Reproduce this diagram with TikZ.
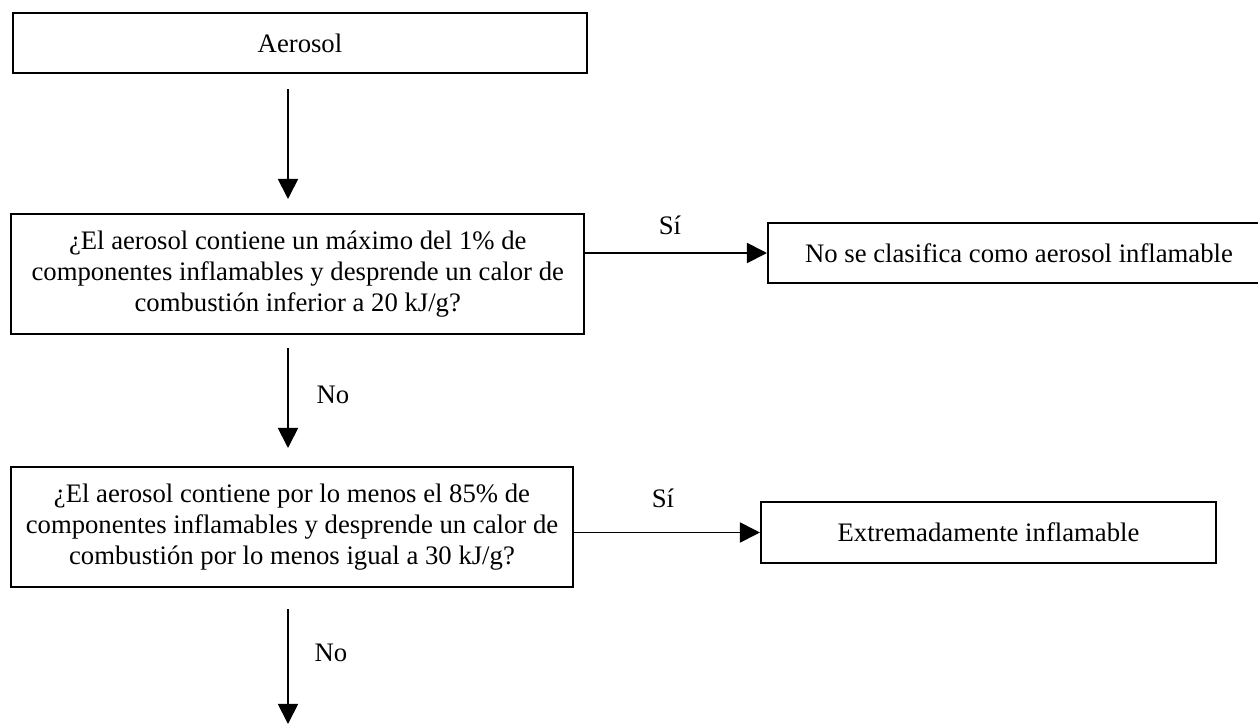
\documentclass[tikz,border=0pt]{standalone}
\usepackage{fontspec}
\setmainfont{Liberation Serif}
\usepackage{tikz}
\usetikzlibrary{arrows.meta,positioning,calc}
\newcommand{\flowbox}[5]{
  \node[draw,line width=0.9pt,minimum width=#3,minimum height=#4,inner sep=0pt,align=center] (#1) at #2 {#5};
}

\begin{document}
\begin{tikzpicture}[x=0.4494pt,y=-0.4494pt,>={Triangle[length=9pt,width=9pt]},font=\fontsize{12pt}{13.8pt}\selectfont]
  \useasboundingbox (0,0) rectangle (1258,725);
  \clip (0,0) rectangle (1258,725);
  \flowbox{aerosol}{(300,43)}{258pt}{27pt}{Aerosol}
  \flowbox{qone}{(297.75,274)}{257.7pt}{53.9pt}{¿El aerosol contiene un máximo del 1\% de\\componentes inflamables y desprende un calor de\\combustión inferior a 20 kJ/g?}
  \flowbox{nonfl}{(1019,253)}{225.6pt}{27pt}{No se clasifica como aerosol inflamable}
  \flowbox{qtwo}{(292,527)}{252.6pt}{53.9pt}{¿El aerosol contiene por lo menos el 85\% de\\componentes inflamables y desprende un calor de\\combustión por lo menos igual a 30 kJ/g?}
  \flowbox{extreme}{(988.5,532.5)}{204.5pt}{27.4pt}{Extremadamente inflamable}
  \coordinate (aone) at (288,89);
  \coordinate (bone) at (288,199);
  \coordinate (atwo) at (288,348);
  \coordinate (btwo) at (288,448);
  \coordinate (athree) at (288,609);
  \coordinate (bthree) at (288,724);
  \draw[->,line width=0.8pt] (aone) -- (bone);
  \draw[->,line width=0.8pt] (atwo) -- (btwo);
  \draw[->,line width=0.8pt] (athree) -- (bthree);
  \draw[->,line width=0.8pt] (qone.east |- nonfl.west) -- (nonfl.west);
  \draw[->,line width=0.8pt] (qtwo.east |- extreme.west) -- (extreme.west);
  \node (sione) at (670,225) {Sí};
  \node (sitwo) at (663,498) {Sí};
  \node (noone) at (333,395) {No};
  \node (notwo) at (331,653) {No};
\end{tikzpicture}
\end{document}
